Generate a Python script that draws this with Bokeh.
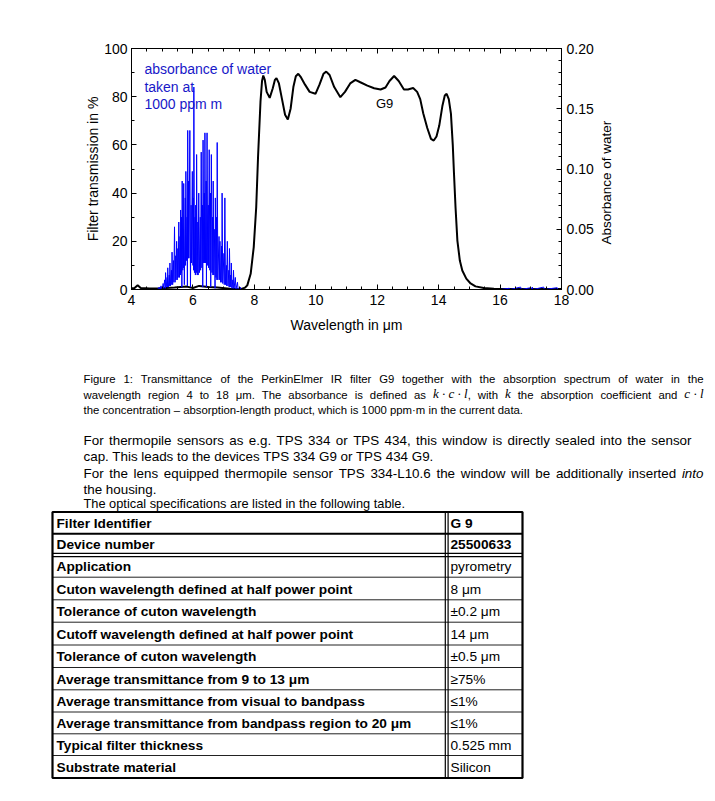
import math
from bokeh.plotting import figure
from bokeh.models import (Range1d, LinearAxis, SingleIntervalTicker, PrintfTickFormatter,
                          CustomJSTickFormatter)
from bokeh.embed import file_html
from bokeh.resources import INLINE
from bokeh.core.properties import value

FONT = "Liberation Sans"
SERIF = "Liberation Serif"

# ---------------- data ----------------
# PerkinElmer G9 filter transmission (%)
g9_wl = [4.0, 4.1, 4.2, 4.3, 4.6, 5.0, 5.4, 5.8, 6.0, 6.2, 6.5, 6.8, 7.2, 7.55, 7.7, 7.77,
         7.88, 7.98, 8.06, 8.12, 8.2, 8.25, 8.29, 8.34, 8.4, 8.5, 8.6, 8.67, 8.72, 8.8, 8.9,
         9.0, 9.09, 9.18, 9.27, 9.35, 9.43, 9.52, 9.65, 9.8, 9.99, 10.12, 10.25, 10.34, 10.45,
         10.6, 10.8, 10.95, 11.12, 11.29, 11.45, 11.68, 11.9, 12.11, 12.27, 12.4, 12.55, 12.7,
         12.87, 13.0, 13.17, 13.3, 13.4, 13.5, 13.63, 13.75, 13.84, 13.93, 14.02, 14.12, 14.2,
         14.26, 14.33, 14.4, 14.46, 14.5, 14.55, 14.61, 14.69, 14.77, 14.9, 15.04, 15.2, 15.47,
         15.8, 16.5, 17.5, 18.0]
g9_t = [0.5, 0.6, 1.8, 0.6, 0.4, 0.5, 0.8, 1.2, 0.6, 1.5, 1.0, 0.8, 0.3, 0.1, 0.8, 1.7,
        6.5, 17.6, 34.0, 55.0, 78.0, 86.5, 88.8, 87.0, 82.0, 79.5, 83.5, 87.0, 87.7, 85.5, 79.0,
        72.5, 70.5, 75.0, 84.0, 88.5, 89.5, 88.0, 85.0, 82.0, 81.2, 85.0, 89.5, 90.4, 89.0,
        84.0, 79.8, 82.0, 85.5, 87.0, 86.0, 84.6, 83.5, 83.0, 83.8, 86.5, 88.6, 86.5,
        83.0, 83.0, 83.6, 82.0, 79.0, 73.0, 67.0, 62.5, 61.8, 63.5, 68.0, 76.0, 80.5,
        81.2, 79.0, 73.0, 60.0, 48.0, 34.0, 20.3, 12.0, 7.9, 4.5, 2.5, 1.3, 0.6,
        0.3, 0.2, 0.2, 0.2]

# Absorbance of water, 1000 ppm m
water_wl = [4.00, 4.85, 4.90, 4.93, 4.96, 5.00, 5.03, 5.05, 5.08, 5.10,
            5.11, 5.13, 5.16, 5.17, 5.18, 5.20, 5.23, 5.24, 5.25, 5.27,
            5.30, 5.31, 5.32, 5.34, 5.37, 5.38, 5.40, 5.42, 5.44, 5.45,
            5.47, 5.49, 5.51, 5.52, 5.54, 5.56, 5.58, 5.59, 5.60, 5.62,
            5.63, 5.64, 5.65, 5.67, 5.68, 5.69, 5.70, 5.72, 5.75, 5.76,
            5.77, 5.79, 5.81, 5.82, 5.83, 5.85, 5.86, 5.87, 5.90, 5.92,
            5.94, 5.95, 5.98, 6.00, 6.01, 6.02, 6.03, 6.05, 6.07, 6.08,
            6.09, 6.11, 6.12, 6.14, 6.16, 6.17, 6.19, 6.21, 6.24, 6.25,
            6.27, 6.29, 6.31, 6.32, 6.33, 6.35, 6.37, 6.38, 6.39, 6.41,
            6.43, 6.44, 6.46, 6.48, 6.50, 6.51, 6.53, 6.55, 6.57, 6.58,
            6.60, 6.62, 6.64, 6.65, 6.66, 6.68, 6.71, 6.72, 6.73, 6.75,
            6.77, 6.78, 6.79, 6.81, 6.85, 6.86, 6.88, 6.90, 6.93, 6.94,
            6.95, 6.97, 7.01, 7.02, 7.04, 7.06, 7.09, 7.10, 7.12, 7.14,
            7.17, 7.18, 7.19, 7.21, 7.23, 7.24, 7.25, 7.27, 7.30, 7.31,
            7.32, 7.34, 7.38, 7.40, 7.45, 7.47, 7.54, 7.57, 16.00, 16.30,
            16.32, 16.67, 16.69, 17.00, 17.02, 17.05, 17.07, 17.42, 17.44, 17.86,
            17.88, 18.00]
water_abs = [0.000, 0.000, 0.002, 0.000, 0.003, 0.000, 0.005, 0.001, 0.008, 0.001,
             0.014, 0.002, 0.010, 0.002, 0.018, 0.002, 0.012, 0.003, 0.022, 0.003,
             0.016, 0.004, 0.031, 0.004, 0.024, 0.006, 0.052, 0.006, 0.028, 0.008,
             0.040, 0.008, 0.034, 0.010, 0.056, 0.010, 0.044, 0.012, 0.066, 0.014,
             0.060, 0.002, 0.090, 0.016, 0.050, 0.018, 0.088, 0.004, 0.076, 0.020,
             0.098, 0.024, 0.060, 0.003, 0.132, 0.026, 0.090, 0.026, 0.132, 0.002,
             0.070, 0.022, 0.098, 0.020, 0.076, 0.016, 0.168, 0.014, 0.060, 0.012,
             0.070, 0.014, 0.112, 0.012, 0.056, 0.012, 0.080, 0.014, 0.060, 0.016,
             0.114, 0.018, 0.070, 0.002, 0.124, 0.022, 0.080, 0.022, 0.130, 0.022,
             0.090, 0.002, 0.130, 0.020, 0.070, 0.018, 0.116, 0.016, 0.080, 0.002,
             0.112, 0.014, 0.060, 0.012, 0.090, 0.012, 0.050, 0.001, 0.076, 0.010,
             0.060, 0.008, 0.122, 0.008, 0.044, 0.008, 0.040, 0.006, 0.036, 0.006,
             0.080, 0.005, 0.030, 0.004, 0.076, 0.004, 0.020, 0.003, 0.040, 0.003,
             0.016, 0.002, 0.034, 0.002, 0.012, 0.002, 0.022, 0.001, 0.008, 0.001,
             0.016, 0.001, 0.010, 0.000, 0.006, 0.000, 0.002, 0.000, 0.000, 0.001,
             0.000, 0.002, 0.000, 0.0015, 0.000, 0.002, 0.000, 0.002, 0.000, 0.0015,
             0.000, 0.000]

legend_lines = ["absorbance of water", "taken at", "1000 ppm m"]

caption_1 = "Figure 1: Transmittance of the PerkinElmer IR filter G9 together with the absorption spectrum of water in the"
caption_2_parts = ["wavelength region 4 to 18 μm. The absorbance is defined as", ", with", "the absorption coefficient and"]
caption_2_math = ["k · c · l", "k", "c · l"]
caption_3 = "the concentration – absorption-length product, which is 1000 ppm·m in the current data."

para_lines = ["For thermopile sensors as e.g. TPS 334 or TPS 434, this window is directly sealed into the sensor",
              "cap. This leads to the devices TPS 334 G9 or TPS 434 G9.",
              "For the lens equipped thermopile sensor TPS 334-L10.6 the window will be additionally inserted",
              "the housing.",
              "The optical specifications are listed in the following table."]
para_italic = "into"

spec_names = ["Filter Identifier", "Device number", "Application",
              "Cuton wavelength defined at half power point", "Tolerance of cuton wavelength",
              "Cutoff wavelength defined at half power point", "Tolerance of cuton wavelength",
              "Average transmittance from 9 to 13 μm", "Average transmittance from visual to bandpass",
              "Average transmittance from bandpass region to 20 μm", "Typical filter thickness",
              "Substrate material"]
spec_values = ["G 9", "25500633", "pyrometry", "8 μm", "±0.2 μm", "14 μm", "±0.5 μm",
               "≥75%", "≤1%", "≤1%", "0.525 mm", "Silicon"]
spec_value_bold = [True, True] + [False] * 10

# Arial / Liberation Sans advance widths (1/1000 em) used to lay out justified lines
_W = {" ": 278, ",": 278, ".": 278, ":": 278, "-": 333, "–": 556, "·": 278, "μ": 576,
      "%": 889, "±": 584, "≥": 549, "≤": 549}
_W.update({c: 556 for c in "0123456789"})
_W.update(dict(zip("ABCDEFGHIJKLMNOPQRSTUVWXYZ",
                   [667, 667, 722, 722, 667, 611, 778, 722, 278, 500, 667, 556, 833, 722, 778,
                    667, 778, 722, 667, 611, 722, 667, 944, 667, 667, 611])))
_W.update(dict(zip("abcdefghijklmnopqrstuvwxyz",
                   [556, 556, 500, 556, 556, 278, 556, 556, 222, 222, 500, 222, 833, 556, 556,
                    556, 556, 333, 500, 278, 556, 500, 722, 500, 500, 500])))
# Times italic widths for the italic formula symbols
_WI = {"k": 444, "c": 444, "l": 278, "·": 250, " ": 250}


def text_width(s, size, table=_W):
    return sum(table.get(ch, 556) for ch in s) * size / 1000.0


def justified_x(words, x0, x1, size):
    gap = (x1 - x0 - sum(text_width(w, size) for w in words)) / (len(words) - 1)
    xs, cur = [], float(x0)
    for w in words:
        xs.append(cur)
        cur += text_width(w, size) + gap
    return xs


# ---------------- chart ----------------
p = figure(width=715, height=358, x_range=Range1d(4, 18), y_range=Range1d(0, 100),
           output_backend="svg", toolbar_location=None,
           x_axis_type=None, y_axis_type=None,
           min_border_left=131, min_border_right=154, min_border_top=48, min_border_bottom=69)
p.extra_y_ranges = {"abs": Range1d(0, 0.2)}
p.outline_line_color = "black"
p.outline_line_width = 1


def style(ax):
    ax.major_tick_in = 5
    ax.major_tick_out = 0
    ax.minor_tick_in = 3
    ax.minor_tick_out = 0
    ax.axis_line_color = "black"
    ax.major_tick_line_color = "black"
    ax.minor_tick_line_color = "black"
    ax.major_label_text_font = FONT
    ax.major_label_text_font_size = "14px"
    ax.major_label_text_color = "black"
    ax.axis_label_text_font = FONT
    ax.axis_label_text_font_size = "14px"
    ax.axis_label_text_font_style = "normal"
    ax.axis_label_text_color = "black"


bottom = LinearAxis(ticker=SingleIntervalTicker(interval=2, num_minor_ticks=4),
                    axis_label="Wavelength in μm")
top = LinearAxis(ticker=SingleIntervalTicker(interval=2, num_minor_ticks=4),
                 formatter=CustomJSTickFormatter(code="return ''"))
left = LinearAxis(ticker=SingleIntervalTicker(interval=20, num_minor_ticks=2),
                  axis_label="Filter transmission in %")
# right-hand title reads bottom-to-top; it is anchored at its first character, so
# non-breaking spaces lift it to where the reference shows it
right = LinearAxis(y_range_name="abs",
                   ticker=SingleIntervalTicker(interval=0.05, num_minor_ticks=5),
                   formatter=PrintfTickFormatter(format="%.2f"),
                   axis_label="\u00a0" * 12 + "Absorbance of water")
for ax in (bottom, top, left, right):
    style(ax)
bottom.axis_label_standoff = 9
left.major_label_standoff = 4
left.axis_label_standoff = 0
right.axis_label_orientation = math.pi / 2
right.axis_label_align = "start"
right.axis_label_text_font_size = "13.5px"
right.axis_label_text_baseline = "middle"
right.axis_label_standoff = 10
p.add_layout(bottom, "below")
p.add_layout(top, "above")
p.add_layout(left, "left")
p.add_layout(right, "right")

p.line(g9_wl, g9_t, line_color="black", line_width=2)
p.line(water_wl, water_abs, y_range_name="abs", line_color="#0000ff", line_width=1)

p.text(x=[4.42, 4.42, 4.42], y=[91.7, 84.2, 76.8], text=legend_lines,
       text_font=value(FONT), text_font_size="14px", text_color="#1818c8",
       text_baseline="middle", text_align="left")
p.text(x=[12.24], y=[77.2], text=["G9"], text_font=value(FONT), text_font_size="13px",
       text_color="black", text_baseline="middle", text_align="center")

# ---------------- caption, paragraphs and table ----------------
p2 = figure(width=715, height=443, x_range=Range1d(0, 715), y_range=Range1d(801, 358),
            output_backend="svg", toolbar_location=None, x_axis_type=None, y_axis_type=None,
            min_border=0)
p2.outline_line_color = None

CAP = 11.35
MATH = 13.0
words = caption_1.split(" ")
p2.text(x=justified_x(words, 83, 703, CAP), y=[378] * len(words), text=words,
        text_font=value(FONT), text_font_size=f"{CAP}px", text_color="black",
        text_baseline="middle")
p2.text(x=[83], y=[409], text=[caption_3], text_font=value(FONT),
        text_font_size=f"{CAP}px", text_color="black", text_baseline="middle")

# justified second caption line with the italic formula symbols set inline
comma, with_word = caption_2_parts[1].strip().split(" ")
groups = [[(w, "sans")] for w in caption_2_parts[0].split(" ")]
groups += [[(caption_2_math[0], "math"), (comma, "sans")], [(with_word, "sans")],
           [(caption_2_math[1], "math")]]
groups += [[(w, "sans")] for w in caption_2_parts[2].split(" ")]
groups += [[(caption_2_math[2], "math")]]


def piece_w(t, kind):
    return text_width(t, CAP) if kind == "sans" else text_width(t, MATH, _WI)


total = sum(piece_w(t, k) for g in groups for t, k in g)
gap2 = (703 - 83 - total) / (len(groups) - 1)
sans_x, sans_t, math_x, math_t = [], [], [], []
cur = 83.0
for g in groups:
    for t, k in g:
        (sans_x if k == "sans" else math_x).append(cur)
        (sans_t if k == "sans" else math_t).append(t)
        cur += piece_w(t, k)
    cur += gap2
p2.text(x=sans_x, y=[394] * len(sans_t), text=sans_t, text_font=value(FONT),
        text_font_size=f"{CAP}px", text_color="black", text_baseline="middle")
p2.text(x=math_x, y=[393] * len(math_t), text=math_t, text_font=value(SERIF),
        text_font_size=f"{MATH}px", text_font_style="italic", text_color="black",
        text_baseline="middle")

PARA = 13.4
w1 = para_lines[0].split(" ")
p2.text(x=justified_x(w1, 83, 691, PARA), y=[440] * len(w1), text=w1, text_font=value(FONT),
        text_font_size=f"{PARA}px", text_color="black", text_baseline="middle")
w3 = para_lines[2].split(" ") + [para_italic]
x3 = justified_x(w3, 83, 703, PARA)
p2.text(x=x3[:-1], y=[473] * (len(w3) - 1), text=w3[:-1], text_font=value(FONT),
        text_font_size=f"{PARA}px", text_color="black", text_baseline="middle")
p2.text(x=x3[-1:], y=[473], text=[para_italic], text_font=value(FONT),
        text_font_size=f"{PARA}px", text_font_style="italic", text_color="black",
        text_baseline="middle")
p2.text(x=[83, 83], y=[456, 489], text=[para_lines[1], para_lines[3]], text_font=value(FONT),
        text_font_size=f"{PARA}px", text_color="black", text_baseline="middle")
p2.text(x=[83], y=[503], text=[para_lines[4]], text_font=value(FONT),
        text_font_size="12.8px", text_color="black", text_baseline="middle")

edges = [511.5, 533.3, 554.5, 576.7, 599.3, 621.7, 644.5, 667.0, 689.3, 711.5, 733.3, 755.0, 777.5]
centers = [(a + b) / 2 + 0.5 for a, b in zip(edges[:-1], edges[1:])]
tx_left, tx_div, tx_right = 52, 446, 522

inner = edges[3:-1]
p2.segment(x0=[tx_left] * len(inner), y0=inner, x1=[tx_right] * len(inner), y1=inner,
           line_color="#222222", line_width=1)
p2.segment(x0=[tx_left], y0=[edges[1]], x1=[tx_right], y1=[edges[1]],
           line_color="black", line_width=2)
p2.segment(x0=[tx_left, tx_left], y0=[edges[2] - 1.6, edges[2] + 1.6],
           x1=[tx_right, tx_right], y1=[edges[2] - 1.6, edges[2] + 1.6],
           line_color="black", line_width=1.2)
p2.segment(x0=[tx_div - 1.2, tx_div + 1.6], y0=[edges[0]] * 2, x1=[tx_div - 1.2, tx_div + 1.6],
           y1=[edges[-1]] * 2, line_color="black", line_width=1.2)
p2.quad(left=[tx_left], right=[tx_right], top=[edges[0]], bottom=[edges[-1]],
        fill_color=None, line_color="black", line_width=2.2)

TAB = 13.7
p2.text(x=[56] * len(spec_names), y=centers, text=spec_names, text_font=value(FONT),
        text_font_size=f"{TAB}px", text_font_style="bold", text_color="black",
        text_baseline="middle")
bold_vals = [v for v, b in zip(spec_values, spec_value_bold) if b]
bold_y = [c for c, b in zip(centers, spec_value_bold) if b]
norm_vals = [v for v, b in zip(spec_values, spec_value_bold) if not b]
norm_y = [c for c, b in zip(centers, spec_value_bold) if not b]
p2.text(x=[450] * len(bold_vals), y=bold_y, text=bold_vals, text_font=value(FONT),
        text_font_size=f"{TAB}px", text_font_style="bold", text_color="black",
        text_baseline="middle")
p2.text(x=[450] * len(norm_vals), y=norm_y, text=norm_vals, text_font=value(FONT),
        text_font_size=f"{TAB}px", text_color="black", text_baseline="middle")

open("out.html", "w").write(file_html([p, p2], INLINE))
